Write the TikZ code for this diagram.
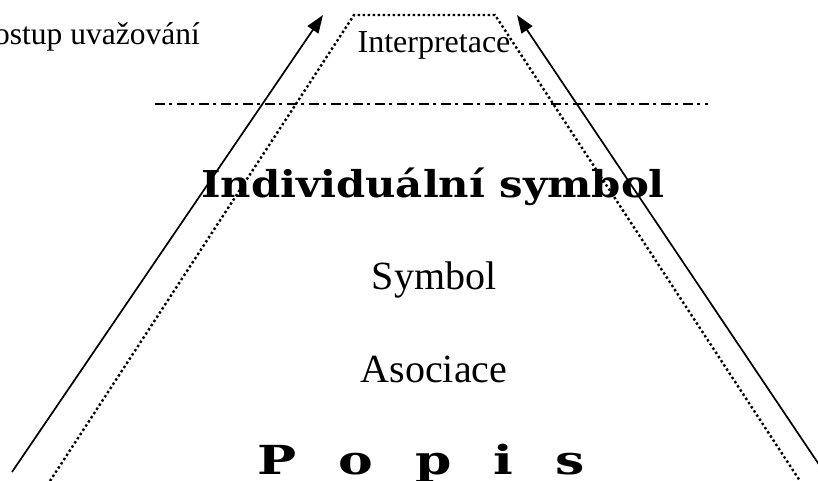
\documentclass[tikz,border=0pt]{standalone}
\usepackage{fontspec}
\setmainfont{Liberation Serif}
\newfontfamily\bkbold{DejaVu Serif}[UprightFont=* Bold, FakeStretch=1.13]
\newfontfamily\bkwide{DejaVu Serif}[UprightFont=* Bold, FakeStretch=1.3]
\usetikzlibrary{arrows.meta}
\tikzset{
  arrowline/.style={line width=1.7pt, -{Triangle[length=18pt,width=13pt]}},
  dotline/.style={line width=2.4pt, dash pattern=on 2.4pt off 2.6pt},
  dashdotline/.style={line width=1.7pt, dash pattern=on 10pt off 4pt on 3pt off 5pt},
  lbl/.style={inner sep=0pt, anchor=base},
}
\begin{document}
\begin{tikzpicture}[x=1pt,y=-1pt]
\useasboundingbox (0,0) rectangle (818,481);
\clip (0,0) rectangle (818,481);
% coordinates
\coordinate (la0) at (12,472);
\coordinate (la1) at (323,15);
\coordinate (ra0) at (824,472);
\coordinate (ra1) at (517,15);
\coordinate (d0) at (50,481);
\coordinate (d1) at (354,15);
\coordinate (d2) at (495,15);
\coordinate (d3) at (800,481);
\coordinate (h0) at (155,104);
\coordinate (h1) at (708,104);
% texts
\node[lbl, anchor=base east] (postup) at (200,45) {\fontsize{31.5pt}{36pt}\selectfont Postup uva\v{z}ov\'an\'i};
\node[lbl] (interp) at (434,53) {\fontsize{32pt}{36pt}\selectfont Interpretace};
\node[lbl] (indiv) at (433,197) {\fontsize{37pt}{40pt}\selectfont\bkbold Individuální symbol};
\node[lbl] (symbol) at (434,289) {\fontsize{40pt}{44pt}\selectfont Symbol};
\node[lbl] (asoc) at (434,382) {\fontsize{40pt}{44pt}\selectfont Asociace};
\node[lbl] (popis) at (421,474) {\fontsize{40pt}{44pt}\selectfont\bkwide P\hspace{42pt}o\hspace{42pt}p\hspace{42pt}i\hspace{42pt}s};
% lines
\draw[arrowline] (la0) -- (la1);
\draw[arrowline] (ra0) -- (ra1);
\draw[dotline] (d0) -- (d1) -- (d2) -- (d3);
\draw[dashdotline] (h0) -- (h1);
\end{tikzpicture}
\end{document}
